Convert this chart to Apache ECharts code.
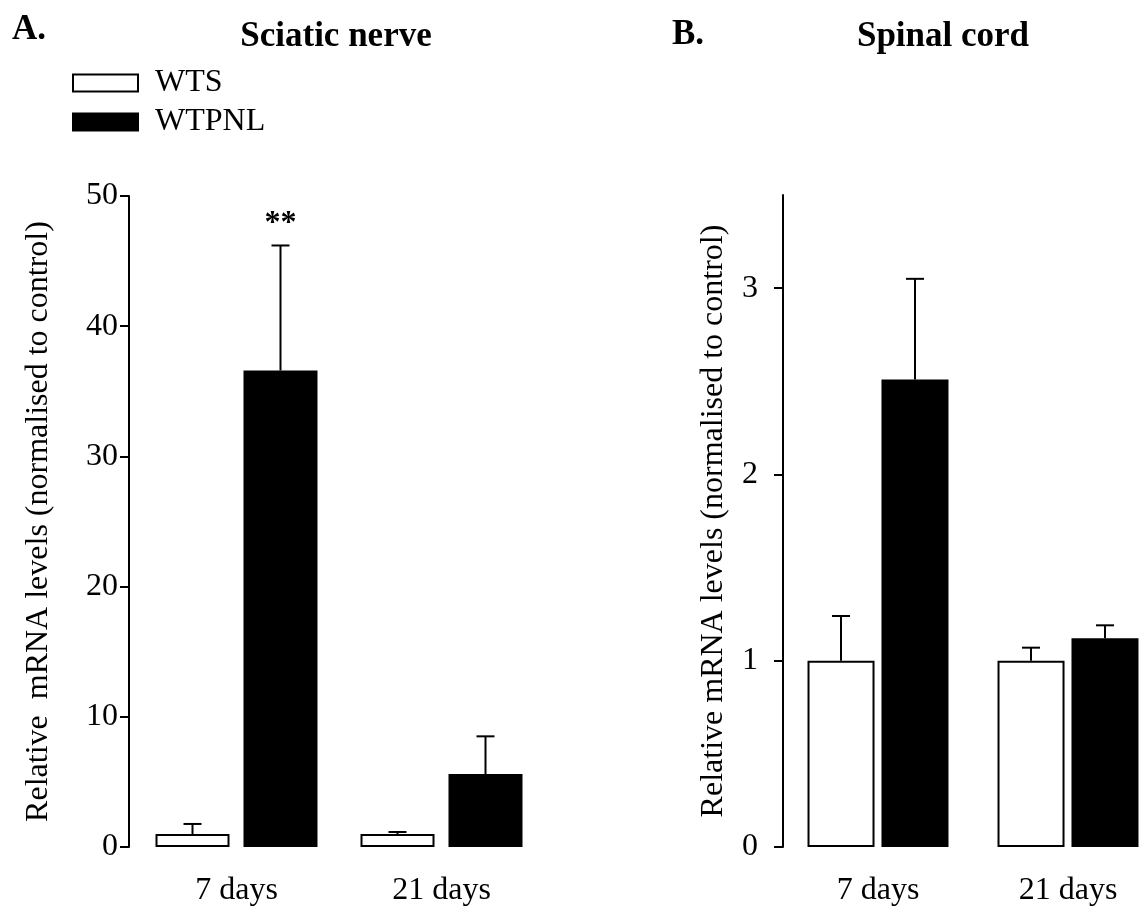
<!DOCTYPE html>
<html>
<head>
<meta charset="utf-8">
<script src="https://cdn.jsdelivr.net/npm/echarts@6/dist/echarts.min.js"></script>
<style>
  html, body { margin: 0; padding: 0; background: #fff; }
  #chart { width: 1144px; height: 911px; }
</style>
</head>
<body>
<div id="chart"></div>
<script>
// Time points
const categories = ['7 days', '21 days'];

// A. Sciatic nerve — mean and SEM
const nerveWTS = [1.0, 1.0];
const nerveWTSsem = [0.77, 0.15];
const nerveWTPNL = [36.6, 5.6];
const nerveWTPNLsem = [9.6, 2.9];
const nerveSignif = ['**', ''];

// B. Spinal cord — mean and SEM
const cordWTS = [1.0, 1.0];
const cordWTSsem = [0.24, 0.07];
const cordWTPNL = [2.51, 1.12];
const cordWTPNLsem = [0.54, 0.07];
const cordSignif = ['', ''];

// Axis ticks
const nerveTicks = [0, 10, 20, 30, 40, 50];
const cordTicks = [0, 1, 2, 3];

const FONT = 'Liberation Serif';
const FS = 32;
const yName = 'Relative  mRNA levels (normalised to control)';
const yName2 = 'Relative mRNA levels (normalised to control)';

// bar geometry per panel (px)
const panels = [
  { barWidth: 74, gapPx: 14 },
  { barWidth: 67, gapPx: 7 }
];

// Panel B runs off the right edge, so its groups sit on a numeric x axis (0, 1)
const toPairs = (vals) => vals.map((v, i) => [i, v]);

function errorSeries(name, panel, seriesIdx, means, sems, signif) {
  const p = panels[panel];
  const shift = (p.barWidth + p.gapPx) / 2 * (seriesIdx === 0 ? -1 : 1);
  return {
    type: 'custom',
    name: name + ' SEM',
    xAxisIndex: panel,
    yAxisIndex: panel,
    z: 5,
    silent: true,
    data: means.map((m, i) => [i, m, sems[i]]),
    renderItem: function (params, api) {
      const cat = api.value(0);
      const mean = api.value(1);
      const sem = api.value(2);
      const sig = signif[params.dataIndex];
      const b = api.coord([cat, mean]);
      const t = api.coord([cat, mean + sem]);
      const x = b[0] + shift;
      const cap = 9;
      const lineStyle = { stroke: '#000', lineWidth: 2 };
      const children = [
        { type: 'line', shape: { x1: x, y1: b[1], x2: x, y2: t[1] }, style: lineStyle },
        { type: 'line', shape: { x1: x - cap, y1: t[1], x2: x + cap, y2: t[1] }, style: lineStyle }
      ];
      if (sig) {
        children.push({
          type: 'text',
          x: x,
          y: t[1] - 6,
          style: {
            text: sig, fill: '#000', font: 'bold 32px "' + FONT + '"',
            align: 'center', verticalAlign: 'bottom'
          }
        });
      }
      return { type: 'group', children: children };
    }
  };
}

function barSeries(name, panel, values, fill) {
  const p = panels[panel];
  return {
    type: 'bar',
    name: name,
    xAxisIndex: panel,
    yAxisIndex: panel,
    data: panel === 1 ? toPairs(values) : values,
    barWidth: p.barWidth,
    barGap: (p.gapPx / p.barWidth * 100).toFixed(1) + '%',
    itemStyle: { color: fill, borderColor: '#000', borderWidth: 2 },
    emphasis: { disabled: true }
  };
}

const chart = echarts.init(document.getElementById('chart'), null, { renderer: 'canvas' });

const axisText = { fontFamily: FONT, fontSize: FS, color: '#000' };
const titleText = { fontFamily: FONT, fontSize: 35, fontWeight: 'bold', color: '#000' };

chart.setOption({
  animation: false,
  backgroundColor: '#fff',
  textStyle: { fontFamily: FONT, color: '#000' },
  title: [
    { text: 'A.', left: 12, top: 12, padding: 0, textStyle: titleText },
    { text: 'Sciatic nerve', left: 336, top: 19, padding: 0, textAlign: 'center', textStyle: titleText },
    { text: 'B.', left: 672, top: 17, padding: 0, textStyle: titleText },
    { text: 'Spinal cord', left: 943, top: 19, padding: 0, textAlign: 'center', textStyle: titleText }
  ],
  legend: {
    data: ['WTS', 'WTPNL'],
    orient: 'vertical',
    left: 72,
    top: 67,
    padding: 0,
    itemWidth: 65,
    itemHeight: 17,
    itemGap: 7,
    icon: 'rect',
    selectedMode: false,
    textStyle: { fontFamily: FONT, fontSize: FS, color: '#000', padding: [0, 0, 0, 12] }
  },
  grid: [
    { left: 134, top: 196, right: 600, bottom: 64 },
    { left: 783, top: 195, right: 0, bottom: 64 }
  ],
  xAxis: [
    {
      type: 'category', gridIndex: 0, data: categories,
      axisLine: { show: false }, axisTick: { show: false },
      axisLabel: Object.assign({ margin: 28 }, axisText)
    },
    {
      // 190 px per group over the 361 px plot width
      type: 'value', gridIndex: 1, min: -0.5, max: 1.4,
      splitLine: { show: false },
      axisLine: { show: false }, axisTick: { show: false },
      axisLabel: Object.assign({
        margin: 28,
        customValues: [0, 1],
        formatter: (v) => categories[Math.round(v)] || ''
      }, axisText)
    }
  ],
  yAxis: [
    {
      type: 'value', gridIndex: 0, min: 0, max: 50, interval: 10, offset: 5,
      splitLine: { show: false },
      axisLine: { show: true, lineStyle: { color: '#000', width: 2 } },
      axisTick: { show: true, length: 9, lineStyle: { color: '#000', width: 2 }, customValues: nerveTicks },
      axisLabel: Object.assign({ margin: 11, customValues: nerveTicks }, axisText),
      name: yName, nameLocation: 'middle', nameGap: 74,
      nameTextStyle: axisText
    },
    {
      type: 'value', gridIndex: 1, min: 0, max: 3.5, interval: 1,
      splitLine: { show: false },
      axisLine: { show: true, onZero: false, lineStyle: { color: '#000', width: 2 } },
      axisTick: { show: true, length: 9, lineStyle: { color: '#000', width: 2 }, customValues: cordTicks },
      axisLabel: Object.assign({ margin: 25, customValues: cordTicks }, axisText),
      name: yName2, nameLocation: 'middle', nameGap: 53,
      nameTextStyle: axisText
    }
  ],
  series: [
    barSeries('WTS', 0, nerveWTS, '#fff'),
    barSeries('WTPNL', 0, nerveWTPNL, '#000'),
    errorSeries('WTS', 0, 0, nerveWTS, nerveWTSsem, ['', '']),
    errorSeries('WTPNL', 0, 1, nerveWTPNL, nerveWTPNLsem, nerveSignif),
    barSeries('WTS', 1, cordWTS, '#fff'),
    barSeries('WTPNL', 1, cordWTPNL, '#000'),
    errorSeries('WTS', 1, 0, cordWTS, cordWTSsem, ['', '']),
    errorSeries('WTPNL', 1, 1, cordWTPNL, cordWTPNLsem, cordSignif)
  ]
});
</script>
</body>
</html>
